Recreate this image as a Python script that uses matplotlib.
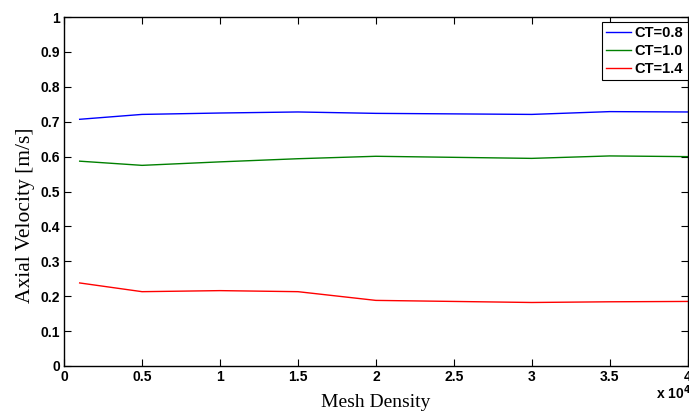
import matplotlib
matplotlib.use("Agg")
import matplotlib.pyplot as plt
from matplotlib.ticker import FuncFormatter

# mesh density (cells) and axial velocity for each thrust coefficient
mesh = [1000, 5000, 10000, 15000, 20000, 30000, 35000, 40000]
ct08 = [0.707, 0.721, 0.725, 0.728, 0.724, 0.721, 0.729, 0.728]
ct10 = [0.587, 0.575, 0.585, 0.594, 0.601, 0.595, 0.602, 0.600]
ct14 = [0.238, 0.213, 0.216, 0.213, 0.188, 0.182, 0.184, 0.185]
labels = ["CT=0.8", "CT=1.0", "CT=1.4"]

fig = plt.figure(figsize=(6.89, 4.11), dpi=100)
ax = fig.add_axes([0.093, 0.1095, 0.905, 0.849])

ax.plot(mesh, ct08, color="blue", lw=1, label=labels[0])
ax.plot(mesh, ct10, color="green", lw=1, label=labels[1])
ax.plot(mesh, ct14, color="red", lw=1, label=labels[2])

ax.set_xlim(0, 40000)
ax.set_ylim(0, 1)
ax.set_xticks([i * 5000 for i in range(9)])
ax.set_yticks([i / 10 for i in range(11)])
ax.xaxis.set_major_formatter(FuncFormatter(lambda v, p: "%g" % (v / 1e4)))
ax.yaxis.set_major_formatter(FuncFormatter(lambda v, p: "%g" % v))
ax.tick_params(direction="in", top=True, right=True, length=5, width=0.8,
               labelsize=10, pad=3)
for t in ax.get_xticklabels() + ax.get_yticklabels():
    t.set_fontweight("bold")
    t.set_family("Liberation Sans")
for s in ax.spines.values():
    s.set_linewidth(1)

ax.set_xlabel("Mesh Density", family="Liberation Serif", fontsize=14, labelpad=7)
ax.set_ylabel("Axial Velocity [m/s]", family="Liberation Serif", fontsize=15.5, va="center")
ax.yaxis.set_label_coords(-0.0625, 0.433)

# x10^4 multiplier under the right end of the x axis
fig.text(0.952, 0.022, r"x 10$^{\mathbf{4}}$", fontsize=10, fontweight="bold",
         family="Liberation Sans", ha="left", va="bottom")

leg = ax.legend(loc="upper right", bbox_to_anchor=(1.0, 1 - 5 / 349), borderaxespad=0,
                fancybox=False, framealpha=1, edgecolor="black",
                prop={"family": "Liberation Sans", "weight": "bold", "size": 10.5},
                handlelength=1.7, handletextpad=0.25, borderpad=0.3, labelspacing=0.25)
leg.get_frame().set_linewidth(0.8)

fig.savefig("out.png", dpi=100)
